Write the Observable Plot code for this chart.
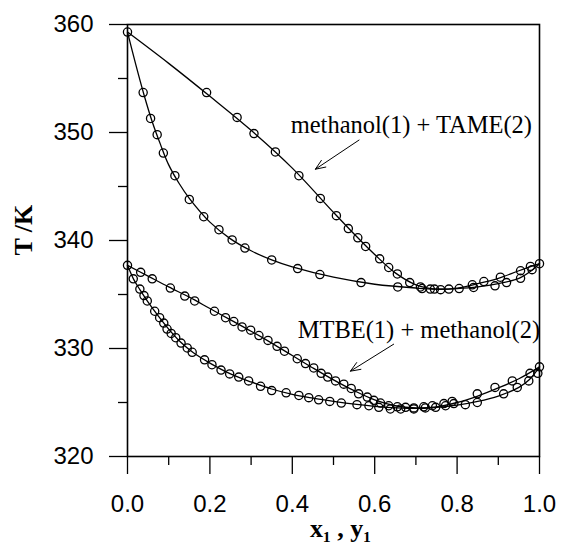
<!DOCTYPE html>
<html>
<head>
<meta charset="utf-8">
<script src="https://cdn.jsdelivr.net/npm/d3@7"></script>
<script src="https://cdn.jsdelivr.net/npm/@observablehq/plot@0.6"></script>
<style>
  html, body { margin: 0; padding: 0; background: #fff; }
  #chart { width: 562px; height: 546px; }
</style>
</head>
<body>
<div id="chart"></div>
<script>
// ---- Axis ticks ----
const yMajor = [320, 330, 340, 350, 360];
const yMinor = [325, 335, 345, 355];
const xMajor = [0, 0.2, 0.4, 0.6, 0.8, 1.0];
const xMinor = [0.1, 0.3, 0.5, 0.7, 0.9];

// ---- methanol(1) + TAME(2): experimental points ----
const tameDewX = [0, 0.192, 0.266, 0.307, 0.359, 0.416, 0.468, 0.507, 0.536, 0.559, 0.578, 0.612, 0.634, 0.655, 0.685, 0.711, 0.735, 0.760, 0.837, 0.865, 0.905, 0.954, 0.978, 1.0];
const tameDewT = [359.3, 353.7, 351.4, 349.9, 348.2, 346.0, 343.9, 342.3, 341.1, 340.25, 339.45, 338.3, 337.5, 336.9, 336.1, 335.7, 335.5, 335.45, 335.9, 336.2, 336.6, 337.2, 337.6, 337.85];
const tameBubX = [0.038, 0.056, 0.072, 0.087, 0.115, 0.150, 0.185, 0.222, 0.254, 0.285, 0.350, 0.413, 0.467, 0.567, 0.656, 0.715, 0.745, 0.780, 0.805, 0.840, 0.892, 0.920, 0.954, 0.982];
const tameBubT = [353.7, 351.3, 349.8, 348.1, 346.0, 343.8, 342.2, 341.0, 340.05, 339.3, 338.2, 337.4, 336.85, 336.1, 335.7, 335.55, 335.5, 335.5, 335.55, 335.65, 335.8, 336.1, 336.5, 337.3];
// model curves
const tameDewLineX = [0, 0.1, 0.2, 0.3, 0.4, 0.5, 0.55, 0.6, 0.65, 0.7, 0.75, 0.8, 0.85, 0.9, 0.95, 1.0];
const tameDewLineT = [359.3, 356.4, 353.35, 350.2, 346.7, 342.6, 340.6, 338.7, 337.0, 335.9, 335.5, 335.6, 336.0, 336.5, 337.2, 337.85];
const tameBubLineX = [0, 0.02, 0.04, 0.06, 0.08, 0.1, 0.125, 0.15, 0.2, 0.25, 0.3, 0.35, 0.4, 0.5, 0.6, 0.7, 0.75, 0.8, 0.85, 0.9, 0.95, 0.98, 1.0];
const tameBubLineT = [359.3, 356.3, 353.5, 351.0, 348.9, 347.0, 345.3, 343.9, 341.7, 340.15, 339.05, 338.2, 337.55, 336.6, 335.95, 335.6, 335.5, 335.55, 335.7, 336.0, 336.5, 337.2, 337.85];

// ---- MTBE(1) + methanol(2): experimental points ----
const mtbeDewX = [0, 0.032, 0.060, 0.104, 0.139, 0.163, 0.211, 0.238, 0.258, 0.278, 0.299, 0.319, 0.341, 0.363, 0.381, 0.412, 0.432, 0.452, 0.470, 0.486, 0.505, 0.525, 0.543, 0.561, 0.582, 0.598, 0.614, 0.634, 0.655, 0.675, 0.695, 0.719, 0.740, 0.768, 0.788, 0.849, 0.892, 0.934, 0.977, 1.0];
const mtbeDewT = [337.7, 337.05, 336.45, 335.6, 334.85, 334.4, 333.45, 332.85, 332.5, 332.0, 331.7, 331.2, 330.75, 330.2, 329.75, 329.05, 328.6, 328.2, 327.7, 327.35, 327.0, 326.7, 326.3, 325.8, 325.5, 325.2, 324.95, 324.7, 324.6, 324.55, 324.5, 324.6, 324.7, 324.9, 325.1, 325.8, 326.4, 327.0, 327.7, 328.3];
const mtbeBubX = [0.014, 0.030, 0.040, 0.048, 0.066, 0.078, 0.088, 0.096, 0.106, 0.117, 0.130, 0.145, 0.157, 0.187, 0.205, 0.227, 0.248, 0.270, 0.294, 0.323, 0.350, 0.385, 0.416, 0.440, 0.464, 0.491, 0.519, 0.557, 0.586, 0.610, 0.638, 0.663, 0.695, 0.723, 0.748, 0.772, 0.792, 0.820, 0.849, 0.913, 0.946, 0.974, 0.996];
const mtbeBubT = [336.45, 335.5, 334.9, 334.4, 333.45, 332.85, 332.35, 331.8, 331.4, 331.0, 330.5, 330.05, 329.65, 328.95, 328.5, 328.0, 327.65, 327.35, 327.0, 326.5, 326.1, 325.9, 325.65, 325.45, 325.25, 325.1, 324.95, 324.8, 324.7, 324.55, 324.4, 324.4, 324.4, 324.5, 324.55, 324.7, 324.9, 324.8, 325.0, 325.8, 326.4, 327.0, 327.7];
// model curves
const mtbeDewLineX = [0, 0.05, 0.1, 0.15, 0.2, 0.25, 0.3, 0.35, 0.4, 0.45, 0.5, 0.55, 0.6, 0.65, 0.7, 0.75, 0.8, 0.85, 0.9, 0.95, 1.0];
const mtbeDewLineT = [337.7, 336.7, 335.7, 334.75, 333.7, 332.65, 331.6, 330.5, 329.35, 328.2, 327.1, 326.1, 325.25, 324.7, 324.5, 324.6, 325.0, 325.6, 326.35, 327.2, 328.3];
const mtbeBubLineX = [0, 0.015, 0.03, 0.05, 0.075, 0.1, 0.13, 0.16, 0.2, 0.25, 0.3, 0.35, 0.4, 0.45, 0.5, 0.6, 0.7, 0.75, 0.8, 0.85, 0.9, 0.95, 0.975, 1.0];
const mtbeBubLineT = [337.7, 336.4, 335.45, 334.3, 333.0, 331.8, 330.55, 329.6, 328.65, 327.65, 326.9, 326.25, 325.75, 325.4, 325.1, 324.65, 324.45, 324.55, 324.75, 325.1, 325.6, 326.4, 327.1, 328.3];

// ---- Annotations ----
const labels = ["methanol(1) + TAME(2)", "MTBE(1) + methanol(2)"];
const labelX = [0.396, 0.413];
const labelT = [350.0, 331.0];
const arrowX1 = [0.562, 0.646];
const arrowT1 = [349.3, 330.4];
const arrowX2 = [0.456, 0.541];
const arrowT2 = [346.6, 327.9];

const xTitle = "x\u2081 , y\u2081";
const yTitle = "T /K";

// ---- build tables ----
const toPts = (xs, ts) => xs.map((x, i) => ({x, T: ts[i]}));
const curves = [
  toPts(tameDewLineX, tameDewLineT),
  toPts(tameBubLineX, tameBubLineT),
  toPts(mtbeDewLineX, mtbeDewLineT),
  toPts(mtbeBubLineX, mtbeBubLineT)
];
const points = [
  ...toPts(tameDewX, tameDewT),
  ...toPts(tameBubX, tameBubT),
  ...toPts(mtbeDewX, mtbeDewT),
  ...toPts(mtbeBubX, mtbeBubT)
];
const labelData = labels.map((t, i) => ({t, x: labelX[i], T: labelT[i]}));
const arrowData = arrowX1.map((x1, i) => ({x1, y1: arrowT1[i], x2: arrowX2[i], y2: arrowT2[i]}));

const sans = "'Liberation Sans', Arial, Helvetica, sans-serif";
const serif = "'Liberation Serif', 'Times New Roman', serif";

const chart = Plot.plot({
  width: 562,
  height: 546,
  marginLeft: 127,
  marginRight: 23,
  marginTop: 24,
  marginBottom: 90,
  x: {domain: [0, 1]},
  y: {domain: [320, 360]},
  style: {background: "white", color: "black", fontFamily: sans},
  marks: [
    Plot.axisY({ticks: yMajor, tickSize: 18, tickPadding: 16, fontSize: 24, fontFamily: sans, tickFormat: d => String(d), label: null, strokeWidth: 1.3}),
    Plot.axisY({ticks: yMinor, tickSize: 9, tickFormat: () => "", label: null, strokeWidth: 1.3}),
    Plot.axisX({ticks: xMajor, tickSize: 18, tickPadding: 20, fontSize: 24, fontFamily: sans, tickFormat: d3.format(".1f"), label: null, strokeWidth: 1.3}),
    Plot.axisX({ticks: xMinor, tickSize: 9, tickFormat: () => "", label: null, strokeWidth: 1.3}),
    Plot.frame({stroke: "black", strokeWidth: 1.6}),
    ...curves.map(c => Plot.line(c, {x: "x", y: "T", curve: "catmull-rom", stroke: "black", strokeWidth: 1.3})),
    Plot.dot(points, {x: "x", y: "T", r: 4.1, stroke: "black", strokeWidth: 1.3, fill: "none"}),
    Plot.text(labelData, {x: "x", y: "T", text: "t", textAnchor: "start", lineAnchor: "bottom", fontSize: 24.5, fontFamily: serif, fill: "black"}),
    Plot.arrow(arrowData, {x1: "x1", y1: "y1", x2: "x2", y2: "y2", stroke: "black", strokeWidth: 1, headLength: 16, headAngle: 44}),
    Plot.text([xTitle], {frameAnchor: "bottom", dx: 7, dy: 80, lineAnchor: "bottom", fontSize: 26, fontWeight: "bold", fontFamily: serif, fill: "black"}),
    Plot.text([yTitle], {frameAnchor: "left", dx: -104, dy: 15, rotate: -90, fontSize: 26, fontWeight: "bold", fontFamily: serif, fill: "black"})
  ]
});
document.getElementById("chart").appendChild(chart);
</script>
</body>
</html>
